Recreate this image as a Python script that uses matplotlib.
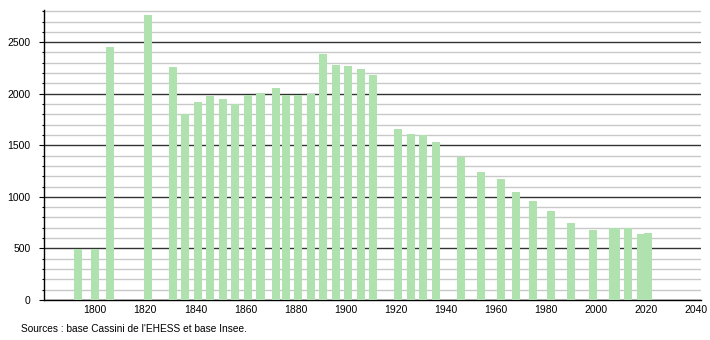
import matplotlib.pyplot as plt
from matplotlib.ticker import MultipleLocator

plt.rcParams['font.family'] = ['Liberation Sans', 'DejaVu Sans']

# données population
years = [1793, 1800, 1806, 1821, 1831, 1836, 1841, 1846, 1851, 1856,
         1861, 1866, 1872, 1876, 1881, 1886, 1891, 1896, 1901, 1906,
         1911, 1921, 1926, 1931, 1936, 1946, 1954, 1962, 1968, 1975,
         1982, 1990, 1999, 2007, 2008, 2013, 2018, 2021]
population = [495, 495, 2455, 2768, 2261, 1801, 1921, 1979, 1950, 1902,
              1989, 2008, 2060, 1989, 1989, 2002, 2390, 2280, 2270, 2241,
              2183, 1659, 1611, 1598, 1533, 1391, 1242, 1174, 1048, 960,
              863, 747, 679, 695, 695, 695, 640, 650]
xticks = list(range(1800, 2041, 20))
source = "Sources : base Cassini de l'EHESS et base Insee."

bar_color = '#b0e2b0'

fig = plt.figure(figsize=(7.1, 3.4), dpi=100)
ax = fig.add_axes([44 / 710, 40 / 340, 657 / 710, 290 / 340])

ax.bar(years, population, width=3.2, color=bar_color, zorder=3)

ax.set_xlim(1779.5, 2042)
ax.set_ylim(0, 2812)

ax.yaxis.set_major_locator(MultipleLocator(500))
ax.yaxis.set_minor_locator(MultipleLocator(100))
ax.set_xticks(xticks)

ax.grid(True, which='minor', axis='y', color='#c8c8c8', linewidth=1, zorder=1)
ax.grid(True, which='major', axis='y', color='#333333', linewidth=1, zorder=2)

ax.tick_params(axis='y', which='major', length=3.6, width=0.8, pad=6, labelsize=7.5)
ax.tick_params(axis='y', which='minor', length=1.6, width=0.8)
ax.tick_params(axis='x', which='both', length=0, pad=3.5, labelsize=7.5)

for s in ['top', 'right']:
    ax.spines[s].set_visible(False)
for s in ['left', 'bottom']:
    ax.spines[s].set_linewidth(1)
    ax.spines[s].set_color('black')

fig.text(21 / 710, 1 - 329 / 340, source, fontsize=7.3, va='center', ha='left')

fig.savefig('out.png', dpi=100, facecolor='white')
